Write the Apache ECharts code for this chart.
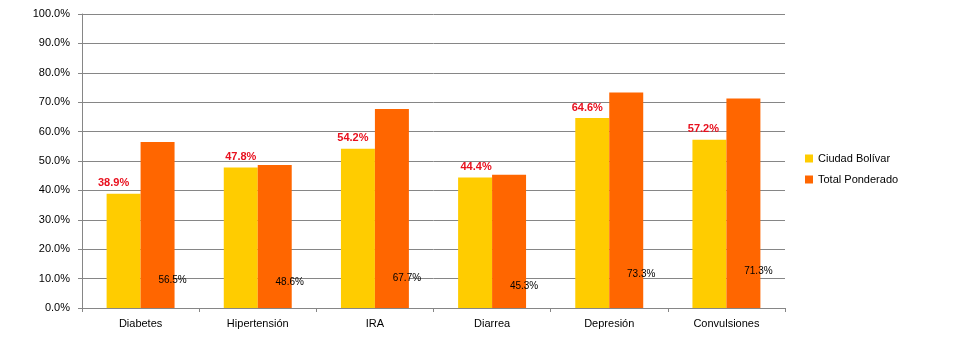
<!DOCTYPE html>
<html><head><meta charset="utf-8">
<script src="https://cdn.jsdelivr.net/npm/echarts@6/dist/echarts.min.js"></script>
<style>html,body{margin:0;padding:0;background:#fff}#c{width:960px;height:357px}</style>
</head><body><div id="c"></div>
<script>
const categories = ['Diabetes','Hipertensión','IRA','Diarrea','Depresión','Convulsiones'];
const ciudadBolivar = [38.9, 47.8, 54.2, 44.4, 64.6, 57.2];
const totalPonderado = [56.5, 48.6, 67.7, 45.3, 73.3, 71.3];
const seriesNames = ['Ciudad Bolívar','Total Ponderado'];
// label placement tweaks (style only)
const redLabelDx = [-10, 0, -5, 1, -5, -6];
const blackLabelDy = [-23, -21, -25, -17, -29, -32];

const FONT = 'Liberation Sans';
const chart = echarts.init(document.getElementById('c'), null, {renderer:'canvas'});
chart.setOption({
  animation:false,
  textStyle:{fontFamily:FONT},
  grid:{left:82,right:175,top:14,bottom:49,containLabel:false},
  legend:{
    orient:'vertical', left:800, top:148, itemWidth:8, itemHeight:8, itemGap:10,
    icon:'rect',
    textStyle:{fontFamily:FONT,fontSize:11,color:'#000'},
    data:seriesNames
  },
  xAxis:{
    type:'category', data:categories,
    axisLine:{lineStyle:{color:'#868686'}},
    axisTick:{show:true,length:4,lineStyle:{color:'#868686'}},
    axisLabel:{color:'#000',fontSize:11,fontFamily:FONT,margin:10}
  },
  yAxis:{
    type:'value', min:0, max:100, interval:10,
    axisLine:{show:true,lineStyle:{color:'#868686'}},
    axisTick:{show:true,length:4,lineStyle:{color:'#868686'}},
    splitLine:{lineStyle:{color:'#868686'}},
    axisLabel:{color:'#000',fontSize:11,fontFamily:FONT,margin:12,formatter:v=>v.toFixed(1)+'%'}
  },
  series:[
    {
      name:seriesNames[0], type:'bar', barGap:'0%', barCategoryGap:'42%',
      itemStyle:{color:'#FFCC00'},
      data:ciudadBolivar.map((v,i)=>({value:v,label:{offset:[redLabelDx[i],0]}})),
      label:{show:true,position:'top',distance:5,color:'#E8101E',fontWeight:'bold',fontSize:11,fontFamily:FONT,formatter:p=>p.value.toFixed(1)+'%'}
    },
    {
      name:seriesNames[1], type:'bar',
      itemStyle:{color:'#FF6600'},
      data:totalPonderado.map((v,i)=>({value:v,label:{offset:[15,blackLabelDy[i]]}})),
      label:{show:true,position:'insideBottom',distance:0,color:'#000',fontSize:10,fontFamily:FONT,formatter:p=>p.value.toFixed(1)+'%'}
    }
  ]
});
</script></body></html>
